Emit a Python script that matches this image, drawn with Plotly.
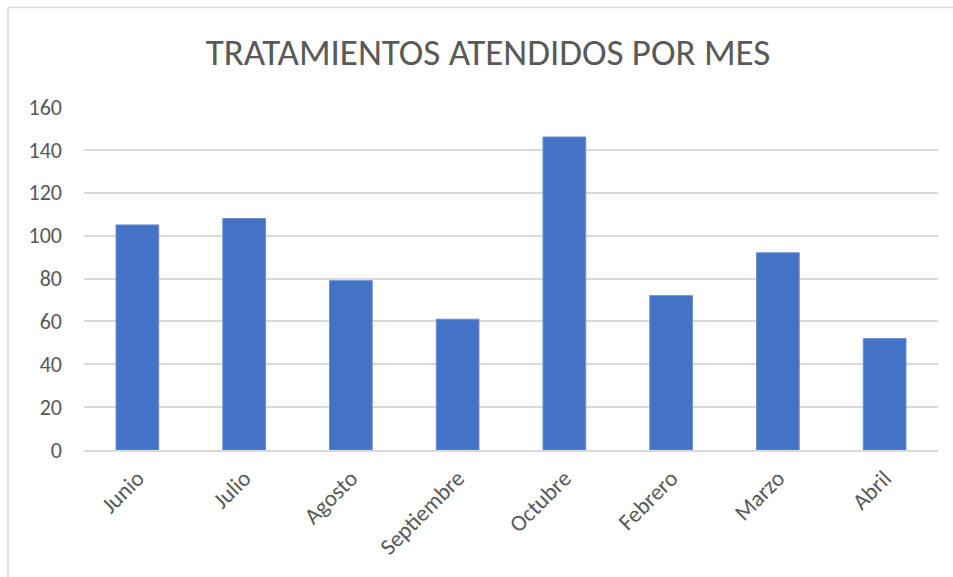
import plotly.graph_objects as go

# Monthly treatments attended
meses = ["Junio", "Julio", "Agosto", "Septiembre", "Octubre", "Febrero", "Marzo", "Abril"]
tratamientos = [105, 108, 79, 61, 146, 72, 92, 52]
y_ticks = [0, 20, 40, 60, 80, 100, 120, 140, 160]

W, H = 953, 577
L, R, T, B = 84, 15, 107, 127
pw, ph = W - L - R, H - T - B

def px_to_paper_x(px):
    return (px - L) / pw

def px_to_paper_y(py):
    return (H - B - py) / ph

text_color = "#595959"
grid_color = "#d9d9d9"

fig = go.Figure(
    go.Bar(
        x=meses,
        y=tratamientos,
        marker=dict(color="#4472c4", line=dict(color="#6a8fd0", width=1)),
        width=0.4,
    )
)

fig.update_layout(
    width=W,
    height=H,
    margin=dict(l=L, r=R, t=T, b=B),
    paper_bgcolor="white",
    plot_bgcolor="white",
    showlegend=False,
    font=dict(family="Carlito, Liberation Sans Narrow, Open Sans, sans-serif", color=text_color),
    title=dict(
        text="TRATAMIENTOS ATENDIDOS POR MES",
        x=px_to_paper_x(488),
        xref="paper",
        xanchor="center",
        y=1 - 52 / H,
        yref="container",
        yanchor="middle",
        font=dict(size=37, color=text_color),
    ),
    xaxis=dict(
        tickangle=-45,
        tickfont=dict(size=23, color=text_color),
        showgrid=False,
        showline=True,
        linecolor=grid_color,
        linewidth=1.5,
        ticks="",
        ticklabelstandoff=4,
    ),
    yaxis=dict(
        range=[0, 160],
        tickvals=y_ticks,
        tickfont=dict(size=22, color=text_color),
        showgrid=True,
        gridcolor=grid_color,
        gridwidth=1.5,
        zeroline=False,
        ticks="",
        ticklabelstandoff=21,
    ),
    shapes=[
        dict(type="line", xref="paper", yref="paper",
             x0=px_to_paper_x(8), x1=px_to_paper_x(W + 5),
             y0=px_to_paper_y(7.5), y1=px_to_paper_y(7.5),
             line=dict(color=grid_color, width=1.5)),
        dict(type="line", xref="paper", yref="paper",
             x0=px_to_paper_x(8), x1=px_to_paper_x(8),
             y0=px_to_paper_y(7.5), y1=px_to_paper_y(H),
             line=dict(color=grid_color, width=1.5)),
    ],
)

fig.write_html("out.html")
